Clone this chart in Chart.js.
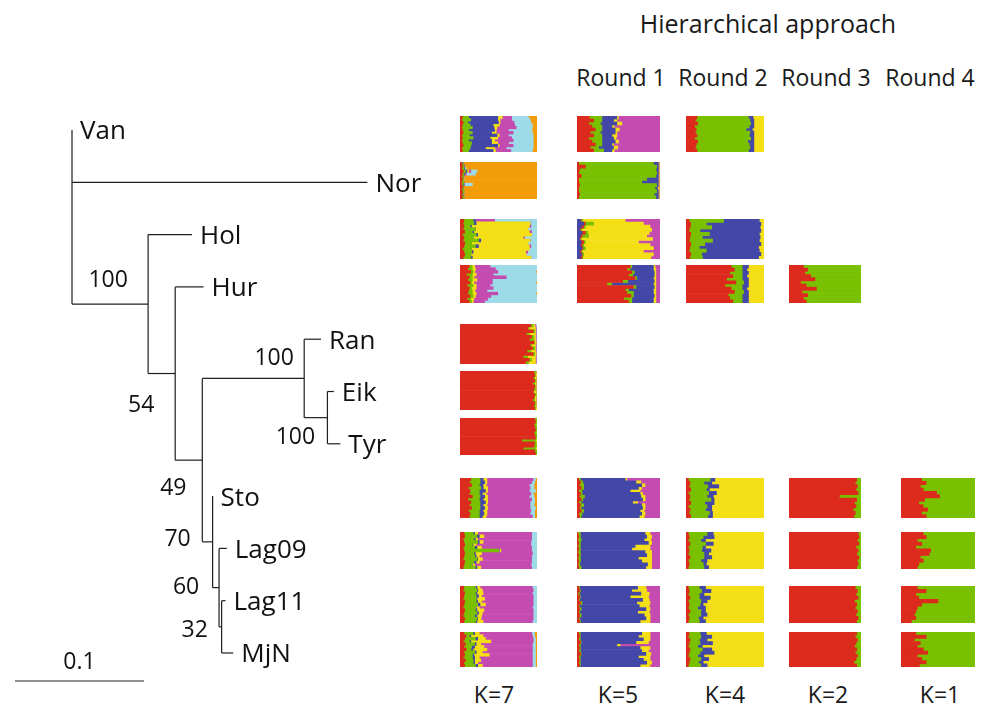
<!DOCTYPE html>
<html>
<head>
<meta charset="utf-8">
<script src="https://cdn.jsdelivr.net/npm/chart.js@4.4.0/dist/chart.umd.min.js"></script>
<style>
    body { margin: 0; background: #fff; width: 987px; height: 711px; position: relative; overflow: hidden; font-family: 'Open Sans', sans-serif; color: #1a1a1a; }
    canvas { position: absolute; }
    .lbl { position: absolute; transform: translate(-50%, -50%); white-space: nowrap; font-size: 23px; }
</style>
</head>
<body>
<canvas id="tree" width="450" height="711" style="left:0;top:0"></canvas>
<div id="blocks"></div>
<div id="texts"></div>
<script>
// populations (tree tips, top to bottom) and column headers
const populations = ['Van', 'Nor', 'Hol', 'Hur', 'Ran', 'Eik', 'Tyr', 'Sto', 'Lag09', 'Lag11', 'MjN'];
const kLabels = ['K=7', 'K=5', 'K=4', 'K=2', 'K=1'];
const roundLabels = ['Round 1', 'Round 2', 'Round 3', 'Round 4'];
const title = 'Hierarchical approach';

// tree: node, parent, branch length (substitutions), bootstrap support
const treeNodes  = ['root', 'Van', 'Nor', 'n100', 'Hol', 'n54', 'Hur', 'n49', 'nRan', 'Ran', 'nEik', 'Eik', 'Tyr', 'n70', 'Sto', 'n60', 'Lag09', 'n32', 'Lag11', 'MjN'];
const treeParent = [null, 'root', 'root', 'root', 'n100', 'n100', 'n54', 'n54', 'n49', 'nRan', 'nRan', 'nEik', 'nEik', 'n49', 'n70', 'n70', 'n60', 'n60', 'n32', 'n32'];
const branchLen  = [0, 0, 0.229, 0.059, 0.034, 0.021, 0.022, 0.021, 0.079, 0.013, 0.018, 0.005, 0.010, 0.008, 0, 0.005, 0.006, 0.002, 0.003, 0.009];
const support = { n100: 100, n54: 54, n49: 49, nRan: 100, nEik: 100, n70: 70, n60: 60, n32: 32 };
const scaleBarLength = 0.1;

// cluster key sets (left to right inside a block)
const k7all = ['red', 'green', 'blue', 'yellow', 'magenta', 'cyan', 'orange'];
const k5 = ['red', 'green', 'blue', 'yellow', 'magenta'];
const k4 = ['red', 'green', 'blue', 'yellow'];
const k2 = ['red', 'green'];

// membership proportions, one row per individual
const vanK7 = [[3,8,38,6,12,22,11],[2,12,35,3,15,24,9],[4,6,40,2,18,22,8],[3,10,30,8,20,23,6],[2,14,28,4,25,21,6],[3,8,34,2,16,30,7],[4,12,25,6,22,25,6],[2,10,36,3,12,32,5],[3,14,22,10,18,28,5],[2,9,30,4,24,26,5],[3,12,26,8,14,32,5],[4,10,35,2,18,26,5],[2,11,20,12,15,35,5],[3,8,32,3,20,28,6]];
const norK7 = [[2,1,1,0,0,0,96],[3,2,0,0,1,0,94],[2,3,1,0,0,2,92],[4,3,2,2,3,8,78],[3,2,1,0,2,12,80],[2,2,0,0,1,0,95],[3,1,0,1,0,0,95],[2,3,0,0,0,0,95],[2,2,1,0,1,10,84],[3,1,0,0,0,0,96],[2,2,0,0,0,0,96],[3,2,0,0,0,0,95],[2,1,1,0,1,0,95],[3,2,0,0,0,0,95]];
const holK7 = [[5,12,3,0,25,55],[4,14,3,70,0,9],[5,8,2,75,2,8],[4,16,0,68,0,12],[6,10,2,72,3,7],[3,18,2,70,0,7],[5,12,0,65,2,16],[4,20,3,64,0,9],[6,9,0,73,0,12],[5,15,4,66,2,8],[3,12,0,75,0,10],[5,10,2,68,3,12],[6,8,0,72,0,14],[4,10,2,76,0,8]];
const hurK7 = [[12,4,3,20,61,0],[10,6,4,26,54,0],[14,3,2,30,49,2],[8,8,5,22,57,0],[12,4,2,42,40,0],[10,6,6,20,58,0],[13,2,3,24,56,2],[9,8,4,18,61,0],[12,3,6,22,57,0],[11,5,3,16,65,0],[10,6,5,28,49,2],[13,4,3,20,60,0],[9,5,4,18,64,0],[12,3,2,15,68,0]];
const ranK7 = [[92,3,2,1,2],[88,2,8,1,1],[95,2,1,1,1],[86,4,8,1,1],[93,3,2,1,1],[90,6,2,1,1],[96,1,2,1,0],[91,2,5,1,1],[94,3,1,1,1],[87,5,6,1,1],[95,2,2,1,0],[82,6,10,1,1],[90,3,5,1,1],[85,4,9,1,1]];
const eikK7 = [[96,2,1,1],[97,1,2,0],[95,2,2,1],[97,1,1,1],[94,3,2,1],[97,1,1,1],[96,2,1,1],[95,1,3,1],[97,2,1,0],[96,1,2,1],[94,3,2,1],[97,1,1,1],[96,2,1,1],[97,1,2,0]];
const tyrK7 = [[97,3,0,0],[98,2,0,0],[96,3,1,0],[97,2,0,1],[98,2,0,0],[96,3,1,0],[97,2,0,1],[98,2,0,0],[80,18,2,0],[97,2,1,0],[96,3,0,1],[82,16,2,0],[97,3,0,0],[98,2,0,0]];
const stoK7 = [[14,12,4,5,60,3,2],[12,14,6,3,58,4,3],[15,10,5,4,56,6,4],[11,16,3,6,55,5,4],[13,12,8,3,54,8,2],[12,13,4,5,58,3,5],[16,10,6,4,54,6,4],[10,15,5,6,57,4,3],[14,12,7,3,55,6,3],[12,14,4,5,56,5,4],[15,11,6,4,55,7,2],[11,14,5,5,57,5,3],[13,12,6,4,56,6,3],[12,13,4,5,60,3,3]];
const lag09K7 = [[5,12,2,4,70,7],[6,16,3,6,62,7],[4,14,2,3,70,7],[5,18,2,5,62,8],[6,10,1,4,71,8],[4,15,3,6,65,7],[5,45,1,2,40,7],[6,12,2,8,66,6],[5,14,2,4,68,7],[4,18,1,6,64,7],[6,12,3,4,68,7],[5,10,1,3,73,8],[4,16,2,5,66,7]];
const lag11K7 = [[5,15,2,4,68,6],[4,18,1,6,66,5],[6,14,2,8,64,6],[5,16,3,4,67,5],[4,17,1,10,63,5],[6,15,2,5,67,5],[5,18,3,7,62,5],[4,16,1,4,69,6],[6,14,2,9,64,5],[5,17,2,5,66,5],[4,15,3,6,67,5],[6,16,1,4,68,5],[5,15,2,8,64,6]];
const mjnK7 = [[5,12,2,6,68,4,3],[8,4,2,16,64,3,3],[6,14,3,10,62,3,2],[4,8,2,26,55,3,2],[7,12,2,6,67,4,2],[5,10,4,12,63,4,2],[8,6,3,18,59,4,2],[5,14,2,8,65,4,2],[6,10,2,20,56,4,2],[4,12,3,6,69,4,2],[7,10,2,8,67,4,2],[5,12,2,4,71,4,2],[6,14,3,6,65,4,2]];

const vanR1 = [[15,15,18,2,50],[20,10,14,4,52],[14,14,20,6,46],[18,12,12,3,55],[22,8,16,5,49],[16,12,18,2,52],[20,10,12,6,52],[14,16,14,3,53],[18,12,16,4,50],[22,8,12,2,56],[16,10,18,5,51],[20,12,10,3,55]];
const norR1 = [[2,90,6,1,1],[10,86,2,1,1],[3,92,3,1,1],[2,94,2,1,1],[5,90,3,1,1],[2,82,14,1,1],[2,76,20,1,1],[3,93,2,1,1],[2,92,3,2,1],[2,94,2,1,1],[3,90,5,1,1],[2,93,3,1,1]];
const holR1 = [[4,1,2,51,42],[8,2,10,60,20],[5,3,2,78,12],[3,1,2,84,10],[6,4,3,74,13],[4,2,8,70,16],[3,1,1,86,9],[5,3,2,64,26],[4,2,2,80,12],[6,1,3,82,8],[3,2,1,74,20],[5,1,2,84,8],[4,2,1,82,11]];
const hurR1 = [[64,2,26,2,6],[60,4,28,3,5],[66,3,24,2,5],[62,5,26,2,5],[70,2,20,3,5],[55,6,32,2,5],[36,6,50,3,5],[68,3,22,2,5],[58,4,30,3,5],[60,8,24,3,5],[65,3,25,2,5],[56,10,26,3,5],[62,4,26,3,5]];
const stoR1 = [[2,2,54,2,40],[4,3,64,6,23],[3,5,70,4,18],[5,3,66,4,22],[2,4,58,12,24],[4,2,70,3,21],[3,6,68,5,18],[5,2,72,3,18],[2,3,62,6,27],[4,4,70,4,18],[3,2,74,3,18],[5,3,68,5,19],[2,4,72,4,18],[3,2,70,6,19]];
const lag09R1 = [[1,3,78,6,12],[2,2,80,6,10],[1,4,76,8,11],[2,2,82,4,10],[1,3,66,18,12],[2,2,62,22,12],[1,3,78,8,10],[2,2,80,6,10],[1,3,70,16,10],[2,2,74,12,10],[1,2,82,5,10],[2,3,78,7,10]];
const lag11R1 = [[2,1,70,10,17],[3,1,62,18,16],[1,2,74,10,13],[3,1,60,22,14],[2,1,76,8,13],[4,2,66,16,12],[2,1,72,12,13],[3,2,78,5,12],[2,1,70,14,13],[3,2,76,7,12],[2,1,80,5,12],[3,1,72,12,12]];
const mjnR1 = [[2,2,74,10,12],[3,1,70,14,12],[2,2,76,8,12],[4,1,66,15,14],[2,2,44,4,48],[3,1,72,12,12],[2,2,74,8,14],[4,1,78,6,11],[2,2,70,14,12],[3,1,76,8,12],[2,2,80,6,10],[3,1,72,12,12]];

const vanR2 = [[14,66,6,14],[12,70,5,13],[15,68,4,13],[11,70,6,13],[13,64,8,15],[12,70,5,13],[14,67,6,13],[11,72,4,13],[15,64,8,13],[13,68,6,13],[12,70,5,13],[14,66,7,13]];
const holR2 = [[4,44,46,6],[6,20,70,4],[5,28,62,5],[4,14,78,4],[6,24,64,6],[5,16,74,5],[4,30,60,6],[6,18,72,4],[5,12,76,7],[4,22,68,6],[6,14,76,4],[5,16,72,7]];
const hurR2 = [[58,14,8,20],[62,10,6,22],[56,16,8,20],[60,12,6,22],[52,20,8,20],[64,10,6,20],[50,22,8,20],[58,14,6,22],[62,12,6,20],[54,18,8,20],[56,16,8,20],[60,12,8,20]];
const stoR2 = [[3,28,6,63],[5,18,10,67],[4,24,14,58],[6,20,4,70],[3,26,10,61],[5,22,8,65],[4,28,4,64],[6,18,12,64],[3,24,6,67],[5,20,8,67],[4,26,4,66],[6,22,6,66]];
const lag09R2 = [[3,24,8,65],[4,18,14,64],[3,16,6,75],[5,20,10,65],[3,18,4,75],[4,16,12,68],[3,20,6,71],[5,18,10,67],[3,16,8,73],[4,18,4,74],[3,20,6,71]];
const lag11R2 = [[3,14,8,75],[4,16,12,68],[3,14,6,77],[5,12,14,69],[3,16,8,73],[4,14,4,78],[3,12,10,75],[5,14,6,75],[3,16,8,73],[4,12,6,78],[3,14,8,75]];
const mjnR2 = [[4,14,8,74],[3,16,14,67],[5,12,10,73],[4,14,16,66],[3,12,6,79],[5,16,12,67],[4,14,18,64],[3,12,8,77],[5,14,10,71],[4,12,6,78],[3,16,8,73]];

const hurR3 = [[20,80],[26,74],[22,78],[30,70],[36,64],[16,84],[24,76],[38,62],[18,82],[26,74],[20,80],[24,76]];
const stoR3 = [[94,6],[92,8],[95,5],[93,7],[96,4],[70,30],[94,6],[91,9],[93,7],[89,11],[92,8],[90,10]];
const lag09R3 = [[96,4],[97,3],[95,5],[97,3],[93,7],[96,4],[94,6],[97,3],[95,5],[96,4],[94,6]];
const lag11R3 = [[92,8],[95,5],[93,7],[96,4],[91,9],[94,6],[92,8],[95,5],[93,7],[96,4],[94,6]];
const mjnR3 = [[94,6],[92,8],[95,5],[93,7],[91,9],[94,6],[92,8],[95,5],[93,7],[90,10],[94,6]];

const stoR4 = [[28,72],[34,66],[26,74],[30,70],[48,52],[52,48],[32,68],[24,76],[30,70],[36,64],[28,72],[34,66]];
const lag09R4 = [[30,70],[34,66],[22,78],[28,72],[20,80],[40,60],[38,62],[26,74],[30,70],[24,76],[22,78]];
const lag11R4 = [[22,78],[34,66],[20,80],[24,76],[50,50],[28,72],[22,78],[20,80],[18,82],[20,80],[14,86]];
const mjnR4 = [[20,80],[34,66],[18,82],[26,74],[22,78],[30,70],[36,64],[22,78],[28,72],[34,66],[25,75]];

// [population, column, cluster keys, rows]
const blocks = [
    ['Van', 0, k7all, vanK7], ['Nor', 0, k7all, norK7],
    ['Hol', 0, ['red','green','blue','yellow','magenta','cyan'], holK7],
    ['Hur', 0, ['red','green','yellow','magenta','cyan','orange'], hurK7],
    ['Ran', 0, ['red','green','yellow','magenta','cyan'], ranK7],
    ['Eik', 0, ['red','green','yellow','magenta'], eikK7],
    ['Tyr', 0, ['red','green','yellow','blue'], tyrK7],
    ['Sto', 0, k7all, stoK7],
    ['Lag09', 0, ['red','green','blue','yellow','magenta','cyan'], lag09K7],
    ['Lag11', 0, ['red','green','blue','yellow','magenta','cyan'], lag11K7],
    ['MjN', 0, k7all, mjnK7],
    ['Van', 1, k5, vanR1], ['Nor', 1, k5, norR1],
    ['Hol', 1, ['blue','red','green','yellow','magenta'], holR1],
    ['Hur', 1, k5, hurR1], ['Sto', 1, k5, stoR1], ['Lag09', 1, k5, lag09R1],
    ['Lag11', 1, k5, lag11R1], ['MjN', 1, k5, mjnR1],
    ['Van', 2, k4, vanR2], ['Hol', 2, k4, holR2], ['Hur', 2, k4, hurR2],
    ['Sto', 2, k4, stoR2], ['Lag09', 2, k4, lag09R2], ['Lag11', 2, k4, lag11R2], ['MjN', 2, k4, mjnR2],
    ['Hur', 3, k2, hurR3], ['Sto', 3, k2, stoR3], ['Lag09', 3, k2, lag09R3], ['Lag11', 3, k2, lag11R3], ['MjN', 3, k2, mjnR3],
    ['Sto', 4, k2, stoR4], ['Lag09', 4, k2, lag09R4], ['Lag11', 4, k2, lag11R4], ['MjN', 4, k2, mjnR4]
];

// ---- styles / layout ----
const palette = {
    red: '#dc2b1c', green: '#79c000', blue: '#4347a7', yellow: '#f4df17',
    magenta: '#c44bb0', cyan: '#9edbe8', orange: '#f39c0a'
};
const colLeft = [460, 577, 686, 789, 901];
const colWidth = [77, 83, 78, 72, 74];
const rowTop = { Van: 116, Nor: 162, Hol: 219, Hur: 265, Ran: 324, Eik: 371, Tyr: 418, Sto: 478, Lag09: 532, Lag11: 586, MjN: 632 };
const rowHeight = { Van: 36, Nor: 37, Hol: 40, Hur: 38, Ran: 40, Eik: 39, Tyr: 37, Sto: 40, Lag09: 37, Lag11: 37, MjN: 35 };
const kLabelX = [494, 618, 725, 828, 940];
const roundLabelX = [621, 723, 826, 930];

const pxPerUnit = 1290, rootLeft = 72, tipTop = 130, tipStep = 52.3;
const supportOffset = { n100: [-40, -24], n54: [-34, 32], n49: [-29, 28], nRan: [-30, -20], nEik: [-32, 20], n70: [-35, -2], n60: [-33, 0], n32: [-27, 4] };
const lineColor = '#1e1e1e';

// ---- tree layout ----
const nodeX = {}, nodeY = {}, children = {};
treeNodes.forEach((n, i) => {
    const p = treeParent[i];
    nodeX[n] = p ? nodeX[p] + branchLen[i] : 0;
    children[n] = [];
    if (p) children[p].push(n);
});
for (let i = treeNodes.length - 1; i >= 0; i--) {
    const n = treeNodes[i];
    const tipIdx = populations.indexOf(n);
    if (tipIdx >= 0) nodeY[n] = tipIdx;
    else {
        const ys = children[n].map(c => nodeY[c]);
        nodeY[n] = (Math.min(...ys) + Math.max(...ys)) / 2;
    }
}

function segment(a, b, w) {
    return { data: [a, b], showLine: true, borderColor: lineColor, borderWidth: w || 1.2, pointRadius: 0 };
}

function buildTree() {
    const segs = [];
    treeNodes.forEach((n, i) => {
        const p = treeParent[i];
        if (p && branchLen[i] > 0) segs.push(segment({ x: nodeX[p], y: nodeY[n] }, { x: nodeX[n], y: nodeY[n] }));
        if (children[n].length) {
            const ys = children[n].map(c => nodeY[c]);
            segs.push(segment({ x: nodeX[n], y: Math.min(...ys) }, { x: nodeX[n], y: Math.max(...ys) }));
        }
    });
    // scale bar
    const barX0 = (15 - rootLeft) / pxPerUnit;
    const barY = (681 - tipTop) / tipStep;
    segs.push(segment({ x: barX0, y: barY }, { x: barX0 + scaleBarLength, y: barY }));

    const treeLabels = {
        id: 'treeLabels',
        afterDraw(chart) {
            const ctx = chart.ctx, xs = chart.scales.x, ys = chart.scales.y;
            ctx.save();
            ctx.fillStyle = '#111';
            ctx.textBaseline = 'middle';
            ctx.font = '26px "Open Sans"';
            ctx.textAlign = 'left';
            populations.forEach(p => ctx.fillText(p, xs.getPixelForValue(nodeX[p]) + 8, ys.getPixelForValue(nodeY[p]) + 2));
            ctx.font = '23px "Open Sans"';
            ctx.textAlign = 'center';
            Object.keys(support).forEach(n => {
                const [dx, dy] = supportOffset[n];
                ctx.fillText(String(support[n]), xs.getPixelForValue(nodeX[n]) + dx, ys.getPixelForValue(nodeY[n]) + dy);
            });
            ctx.fillText(String(scaleBarLength), xs.getPixelForValue(barX0 + scaleBarLength / 2), ys.getPixelForValue(barY) - 19);
            ctx.restore();
        }
    };

    new Chart(document.getElementById('tree'), {
        type: 'scatter',
        data: { datasets: segs },
        options: {
            responsive: false,
            animation: false,
            events: [],
            layout: { padding: 0 },
            plugins: { legend: { display: false }, tooltip: { enabled: false } },
            scales: {
                x: { type: 'linear', display: false, min: -rootLeft / pxPerUnit, max: (450 - rootLeft) / pxPerUnit },
                y: { type: 'linear', display: false, reverse: true, min: -tipTop / tipStep, max: (711 - tipTop) / tipStep }
            }
        },
        plugins: [treeLabels]
    });
}

// ---- admixture blocks ----
function buildBlock(pop, col, keys, rows) {
    const cv = document.createElement('canvas');
    cv.width = colWidth[col];
    cv.height = rowHeight[pop];
    cv.style.left = colLeft[col] + 'px';
    cv.style.top = rowTop[pop] + 'px';
    document.getElementById('blocks').appendChild(cv);
    const sums = rows.map(r => r.reduce((s, v) => s + v, 0));
    new Chart(cv, {
        type: 'bar',
        data: {
            labels: rows.map((r, i) => i + 1),
            datasets: keys.map((k, j) => ({
                data: rows.map((r, i) => r[j] / sums[i] * 100),
                backgroundColor: palette[k],
                borderWidth: 0,
                barPercentage: 1,
                categoryPercentage: 1
            }))
        },
        options: {
            indexAxis: 'y',
            responsive: false,
            animation: false,
            events: [],
            layout: { padding: 0 },
            plugins: { legend: { display: false }, tooltip: { enabled: false } },
            scales: {
                x: { stacked: true, min: 0, max: 100, display: false },
                y: { stacked: true, display: false }
            }
        }
    });
}

function addText(text, x, y, size) {
    const d = document.createElement('div');
    d.className = 'lbl';
    d.textContent = text;
    d.style.left = x + 'px';
    d.style.top = y + 'px';
    if (size) d.style.fontSize = size + 'px';
    document.getElementById('texts').appendChild(d);
}

document.addEventListener('DOMContentLoaded', () => {
    buildTree();
    blocks.forEach(b => buildBlock(b[0], b[1], b[2], b[3]));
    addText(title, 768, 23, 25);
    roundLabels.forEach((t, i) => addText(t, roundLabelX[i], 77, 23));
    kLabels.forEach((t, i) => addText(t, kLabelX[i], 694, 23));
});
</script>
</body>
</html>
